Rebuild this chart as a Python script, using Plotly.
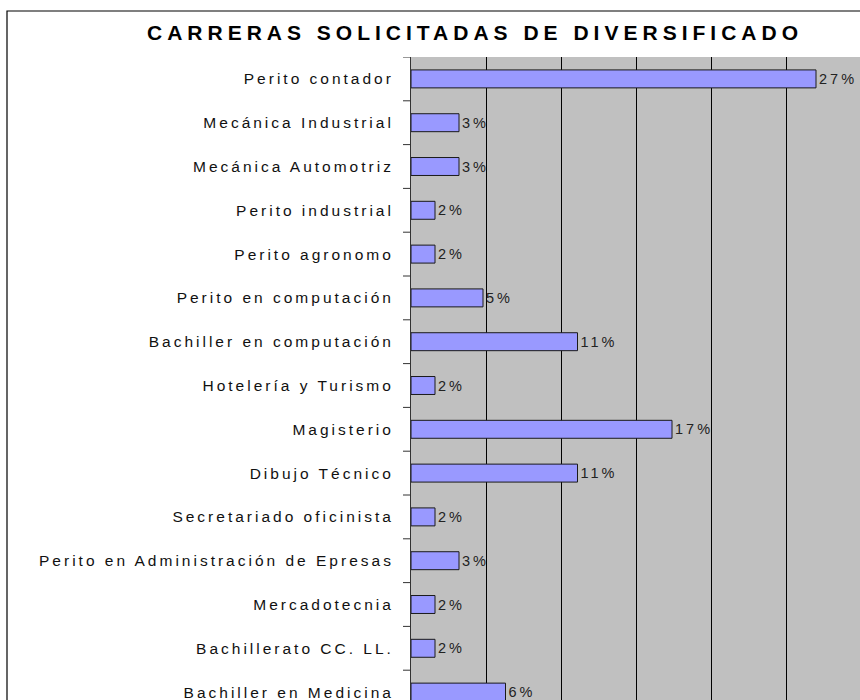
import plotly.graph_objects as go

categories = [
    "Perito contador",
    "Mecánica Industrial",
    "Mecánica Automotriz",
    "Perito industrial",
    "Perito agronomo",
    "Perito en computación",
    "Bachiller en computación",
    "Hotelería y Turismo",
    "Magisterio",
    "Dibujo Técnico",
    "Secretariado oficinista",
    "Perito en Administración de Epresas",
    "Mercadotecnia",
    "Bachillerato CC. LL.",
    "Bachiller en Medicina",
]
values_pct = [27.0, 3.2, 3.2, 1.6, 1.6, 4.8, 11.1, 1.6, 17.4, 11.1, 1.6, 3.2, 1.6, 1.6, 6.3]
title_text = "CARRERAS SOLICITADAS DE DIVERSIFICADO"

FONT = "Liberation Sans, Arial, sans-serif"
W, H = 860, 700
L, T = 411, 57
plot_w = W - L
plot_h = H - T
px_per_pct = 15.0
band_px = 43.8
TICKLEN = 8

n = len(categories)
ticktext = ['<span style="letter-spacing:3px">%s</span>' % c for c in categories]
yrange = [-0.5 + plot_h / band_px, -0.5]
boundaries = [i - 0.5 for i in range(n + 1)]

fig = go.Figure(
    go.Bar(
        y=categories,
        x=values_pct,
        orientation="h",
        width=0.41,
        marker=dict(color="#9999FF", line=dict(color="#1a1a1a", width=1)),
        texttemplate='<span style="letter-spacing:3px">%{x:.0f}%</span>',
        textposition="outside",
        textfont=dict(family=FONT, size=14.5, color="#222222"),
        constraintext="none",
        cliponaxis=False,
        hoverinfo="skip",
    )
)

# category-boundary tick marks on the left of the value axis
tick_shapes = [
    dict(
        type="line",
        xref="paper",
        yref="y",
        x0=-TICKLEN / plot_w,
        x1=0,
        y0=b,
        y1=b,
        line=dict(color="#333333", width=1),
        layer="above",
    )
    for b in boundaries
]

frame = dict(
    type="rect",
    xref="paper",
    yref="paper",
    x0=(7 - L) / plot_w,
    x1=1.2,
    y0=-0.2,
    y1=1 + (T - 11) / plot_h,
    line=dict(color="black", width=1.2),
    fillcolor="rgba(0,0,0,0)",
    layer="above",
)

fig.update_layout(
    width=W,
    height=H,
    margin=dict(l=L, r=0, t=T, b=0, pad=0),
    paper_bgcolor="white",
    plot_bgcolor="#C0C0C0",
    showlegend=False,
    title=dict(
        text='<span style="letter-spacing:5px"><b>%s</b></span>' % title_text,
        x=475 / W,
        xref="container",
        xanchor="center",
        y=1 - 33 / H,
        yref="container",
        yanchor="middle",
        font=dict(family=FONT, size=21, color="black"),
    ),
    xaxis=dict(
        range=[0, plot_w / px_per_pct],
        dtick=5,
        tick0=0,
        showgrid=True,
        gridcolor="black",
        gridwidth=1,
        showticklabels=False,
        ticks="",
        zeroline=False,
        showline=False,
    ),
    yaxis=dict(
        type="category",
        categoryorder="array",
        categoryarray=categories,
        range=yrange,
        tickmode="array",
        tickvals=categories,
        ticktext=ticktext,
        ticks="",
        showgrid=False,
        showline=True,
        linecolor="#333333",
        linewidth=1,
        zeroline=False,
        tickfont=dict(family=FONT, size=15.5, color="#111111"),
        ticklabelstandoff=13,
        ticklabeloverflow="allow",
    ),
    shapes=tick_shapes + [frame],
)

fig.write_html(
    "out.html",
    config={"displayModeBar": False},
    post_script="document.body.style.margin='0';document.body.style.overflow='hidden';",
)
